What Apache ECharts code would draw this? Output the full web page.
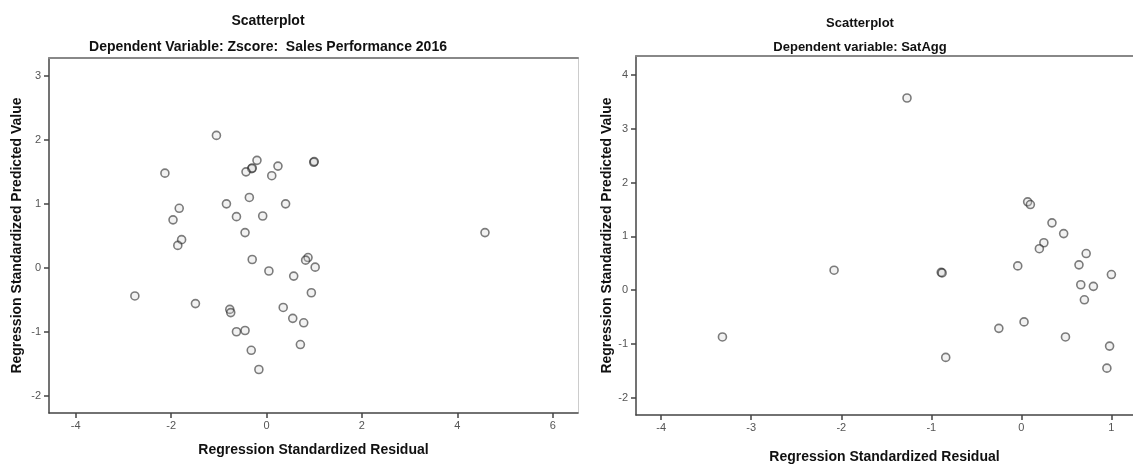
<!DOCTYPE html>
<html>
<head>
<meta charset="utf-8">
<script src="https://cdn.jsdelivr.net/npm/echarts@6/dist/echarts.min.js"></script>
<style>
html,body{margin:0;padding:0;background:#fff;}
#chart{width:1133px;height:469px;}
</style>
</head>
<body>
<div id="chart"></div>
<script>
// Left chart: Dependent Variable: Zscore: Sales Performance 2016
const leftResidual = [-1.05,-2.13,-0.20,-0.31,-0.30,-0.43,0.24,0.11,0.99,1.00,-0.36,-0.84,0.40,-1.83,-1.96,-0.63,-0.08,-0.45,-1.78,-1.86,-0.30,0.05,0.87,0.82,1.02,0.57,-2.76,-1.49,0.94,0.35,-0.77,-0.75,0.55,0.78,-0.63,-0.45,0.71,-0.32,-0.16,4.58];
const leftPredicted = [2.07,1.48,1.68,1.55,1.56,1.50,1.59,1.44,1.65,1.66,1.10,1.00,1.00,0.93,0.75,0.80,0.81,0.55,0.44,0.35,0.13,-0.05,0.16,0.12,0.01,-0.13,-0.44,-0.56,-0.39,-0.62,-0.65,-0.70,-0.79,-0.86,-1.00,-0.98,-1.20,-1.29,-1.59,0.55];
const leftXTicks = [-4,-2,0,2,4,6];
const leftYTicks = [-2,-1,0,1,2,3];

// Right chart: Dependent variable: SatAgg
const rightResidual = [-1.27,-3.32,-2.08,0.07,0.10,0.34,0.47,0.25,0.20,0.72,-0.04,0.64,1.00,0.66,0.80,0.70,0.03,-0.25,0.49,0.98,0.95,-0.89,-0.88,-0.84];
const rightPredicted = [3.57,-0.87,0.37,1.64,1.59,1.25,1.05,0.88,0.77,0.68,0.45,0.47,0.29,0.10,0.07,-0.18,-0.59,-0.71,-0.87,-1.04,-1.45,0.33,0.32,-1.25];
const rightXTicks = [-4,-3,-2,-1,0,1];
const rightYTicks = [-2,-1,0,1,2,3,4];

const titleMain = 'Scatterplot';
const leftSub = 'Dependent Variable: Zscore:  Sales Performance 2016';
const rightSub = 'Dependent variable: SatAgg';
const xName = 'Regression Standardized Residual';
const yName = 'Regression Standardized Predicted Value';

const FONT = '"Liberation Sans", Arial, sans-serif';
const zip = (a, b) => a.map((v, i) => [v, b[i]]);

function valueAxis(gridIndex, min, max, ticks, name, gap, isX) {
  return {
    type: 'value', gridIndex, min, max,
    name, nameLocation: 'middle', nameGap: gap,
    nameTextStyle: { fontFamily: FONT, fontWeight: 'bold', fontSize: 14, color: '#111' },
    splitLine: { show: false },
    axisLine: { show: true, onZero: false, lineStyle: { color: '#444', width: 1.5 } },
    axisTick: { show: true, length: 5, lineStyle: { color: '#444', width: 1.5 }, customValues: ticks },
    axisLabel: { fontFamily: FONT, fontSize: 11, color: '#555', margin: isX ? 7 : 8, customValues: ticks, formatter: v => String(v) }
  };
}
function borderAxis(gridIndex, pos, min, max, color, width) {
  return {
    type: 'value', gridIndex, position: pos, min, max,
    axisLine: { show: true, onZero: false, lineStyle: { color, width } },
    axisTick: { show: false }, axisLabel: { show: false }, splitLine: { show: false }
  };
}

const marker = {
  symbol: 'circle', symbolSize: 8,
  itemStyle: { color: 'rgba(210,210,210,0.35)', borderColor: 'rgba(40,40,40,0.75)', borderWidth: 1.6 }
};

const chart = echarts.init(document.getElementById('chart'), null, { renderer: 'canvas' });
chart.setOption({
  animation: false,
  backgroundColor: '#fff',
  title: [
    { text: titleMain, left: 263, top: 9, textAlign: 'center', textStyle: { fontFamily: FONT, fontWeight: 'bold', fontSize: 14, color: '#111' } },
    { text: leftSub, left: 263, top: 35, textAlign: 'center', textStyle: { fontFamily: FONT, fontWeight: 'bold', fontSize: 14, color: '#111' } },
    { text: titleMain, left: 855, top: 12, textAlign: 'center', textStyle: { fontFamily: FONT, fontWeight: 'bold', fontSize: 13, color: '#111' } },
    { text: rightSub, left: 855, top: 36, textAlign: 'center', textStyle: { fontFamily: FONT, fontWeight: 'bold', fontSize: 13, color: '#111' } }
  ],
  grid: [
    { left: 49, top: 58, width: 529, height: 355 },
    { left: 636, top: 56, width: 500, height: 367 }
  ],
  xAxis: [
    valueAxis(0, -4.56, 6.53, leftXTicks, xName, 30, true),
    valueAxis(1, -4.28, 1.24, rightXTicks, xName, 35, true),
    borderAxis(0, 'top', -4.56, 6.53, '#888', 2),
    borderAxis(1, 'top', -4.28, 1.24, '#888', 2)
  ],
  yAxis: [
    valueAxis(0, -2.27, 3.28, leftYTicks, yName, 25, false),
    valueAxis(1, -2.32, 4.35, rightYTicks, yName, 22, false),
    borderAxis(0, 'right', -2.27, 3.28, '#ccc', 1)
  ],
  series: [
    Object.assign({ type: 'scatter', xAxisIndex: 0, yAxisIndex: 0, data: zip(leftResidual, leftPredicted) }, marker),
    Object.assign({ type: 'scatter', xAxisIndex: 1, yAxisIndex: 1, data: zip(rightResidual, rightPredicted) }, marker)
  ]
});
</script>
</body>
</html>
